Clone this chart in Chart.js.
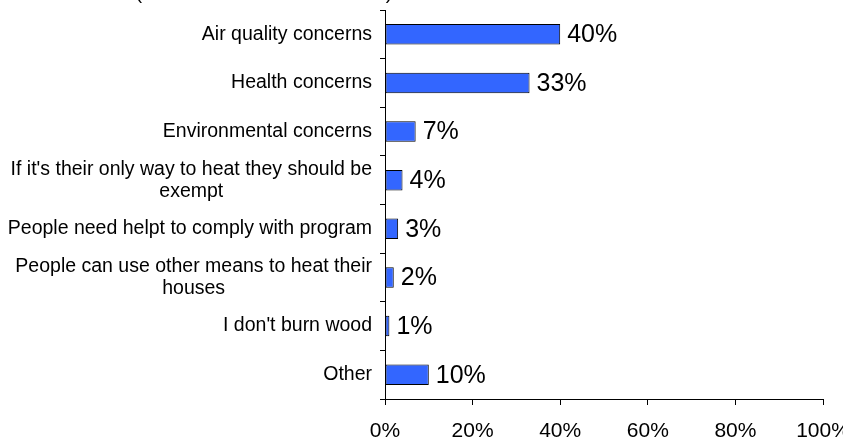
<!DOCTYPE html>
<html>
<head>
<meta charset="utf-8">
<script src="https://cdn.jsdelivr.net/npm/chart.js@4"></script>
<style>
html,body{margin:0;padding:0;background:#fff;}
#wrap{width:843px;height:440px;position:relative;}
</style>
</head>
<body>
<div id="wrap"><canvas id="c" width="843" height="440"></canvas></div>
<script>
const categories = [
  ["Air quality concerns"],
  ["Health concerns"],
  ["Environmental concerns"],
  ["If it's their only way to heat they should be", "exempt"],
  ["People need helpt to comply with program"],
  ["People can use other means to heat their", "houses"],
  ["I don't burn wood"],
  ["Other"]
];
const values = [40, 33, 7, 4, 3, 2, 1, 10];
const xTicks = [0, 20, 40, 60, 80, 100];
const titleText = ["(", ")"];

const FONT = "'Liberation Sans', Arial, Helvetica, sans-serif";

const catLabelPlugin = {
  id: 'catLabels',
  afterDraw(chart) {
    const ctx = chart.ctx;
    const y = chart.scales.y;
    const right = chart.chartArea.left - 13;
    ctx.save();
    ctx.font = "19.5px " + FONT;
    ctx.fillStyle = "#000";
    ctx.textBaseline = "middle";
    ctx.textAlign = "center";
    const lh = 22;
    categories.forEach((lines, i) => {
      const cy = y.getPixelForValue(i);
      const maxW = Math.max(...lines.map(l => ctx.measureText(l).width));
      const cx = right - maxW / 2;
      const start = cy - (lines.length - 1) * lh / 2;
      lines.forEach((l, j) => ctx.fillText(l, cx, start + j * lh));
    });
    ctx.restore();
  }
};

const dataLabelPlugin = {
  id: 'dataLabels',
  afterDatasetsDraw(chart) {
    const ctx = chart.ctx;
    const meta = chart.getDatasetMeta(0);
    ctx.save();
    ctx.font = "25px " + FONT;
    ctx.fillStyle = "#000";
    ctx.textBaseline = "middle";
    ctx.textAlign = "left";
    meta.data.forEach((bar, i) => {
      ctx.fillText(values[i] + "%", bar.x + 7, bar.y + 1);
    });
    ctx.restore();
  }
};

const titlePlugin = {
  id: 'cutTitle',
  afterDraw(chart) {
    const ctx = chart.ctx;
    ctx.save();
    ctx.font = "19px " + FONT;
    ctx.fillStyle = "#000";
    ctx.textBaseline = "alphabetic";
    ctx.textAlign = "center";
    ctx.fillText(titleText[0], 139, -1);
    ctx.fillText(titleText[1], 389, -1);
    ctx.restore();
  }
};

new Chart(document.getElementById('c'), {
  type: 'bar',
  data: {
    labels: categories,
    datasets: [{
      data: values,
      backgroundColor: '#3366FF',
      borderColor: '#000000',
      borderWidth: 1,
      borderSkipped: false,
      barPercentage: 0.42,
      categoryPercentage: 1.0
    }]
  },
  options: {
    indexAxis: 'y',
    responsive: false,
    animation: false,
    devicePixelRatio: 1,
    layout: { autoPadding: false, padding: { top: 10, right: 20, left: 0, bottom: 0 } },
    plugins: { legend: { display: false }, tooltip: { enabled: false }, title: { display: false } },
    scales: {
      x: {
        min: 0, max: 100,
        afterBuildTicks(s) { s.ticks = xTicks.map(v => ({ value: v })); },
        afterFit(s) { s.height = 41; s.paddingLeft = 0; s.paddingRight = 0; },
        ticks: {
          callback: v => v + '%',
          color: '#000',
          font: { family: FONT, size: 21 },
          padding: 14,
          maxRotation: 0
        },
        grid: { drawOnChartArea: false, tickLength: 6, color: '#000', tickColor: '#000', tickWidth: 1 },
        border: { display: true, color: '#000', width: 1 }
      },
      y: {
        offset: true,
        afterFit(s) { s.width = 385; s.paddingTop = 0; s.paddingBottom = 0; },
        ticks: { display: false },
        grid: { offset: true, drawOnChartArea: false, tickLength: 5, color: '#000', tickColor: '#000', tickWidth: 1 },
        border: { display: true, color: '#000', width: 1 }
      }
    }
  },
  plugins: [catLabelPlugin, dataLabelPlugin, titlePlugin]
});
</script>
</body>
</html>
